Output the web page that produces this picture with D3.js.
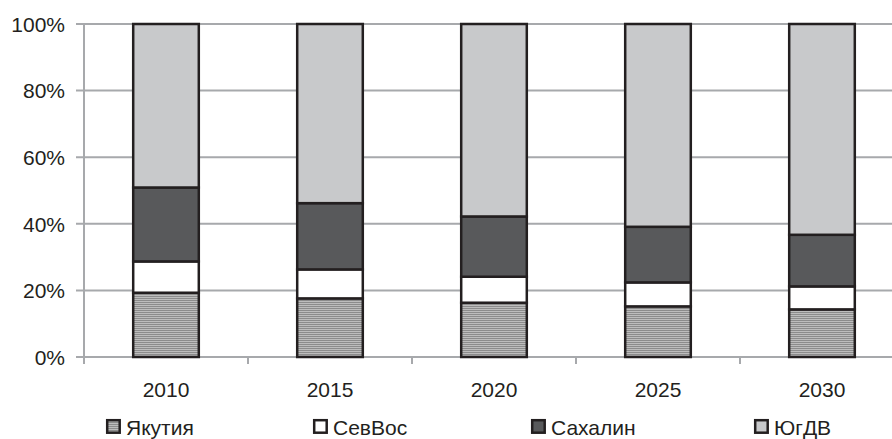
<!DOCTYPE html>
<html>
<head>
<meta charset="utf-8">
<script src="https://cdn.jsdelivr.net/npm/d3@7/dist/d3.min.js"></script>
<style>
  html, body { margin: 0; padding: 0; background: #fff; }
  svg { display: block; overflow: hidden; }
  text { font-family: "Liberation Sans", Arial, sans-serif; fill: #231f20; }
</style>
</head>
<body>
<svg id="chart" width="892" height="439"></svg>
<script>
// Structure shares by year, percent
const years = ["2010", "2015", "2020", "2025", "2030"];
const seriesNames = ["Якутия", "СевВос", "Сахалин", "ЮгДВ"];
const yakutia  = [19.3, 17.6, 16.3, 15.2, 14.3];
const sevVos   = [9.4, 8.7, 7.8, 7.2, 6.9];
const sakhalin = [22.2, 19.9, 18.1, 16.7, 15.5];
const yugDV    = [49.1, 53.8, 57.8, 60.9, 63.3];
const yTicks = [0, 20, 40, 60, 80, 100];

const seriesValues = [yakutia, sevVos, sakhalin, yugDV];
const fills = ["url(#stripes)", "#ffffff", "#58595b", "#c8c9cb"];

const svg = d3.select("#chart");

// horizontal stripe fill for the first series
const defs = svg.append("defs");
const pat = defs.append("pattern")
  .attr("id", "stripes").attr("patternUnits", "userSpaceOnUse")
  .attr("width", 4).attr("height", 2);
pat.append("rect").attr("width", 4).attr("height", 2).attr("fill", "#bdbdbd");
pat.append("rect").attr("width", 4).attr("height", 1).attr("fill", "#8c8c8c");

const rows = years.map((y, i) => {
  const r = { year: y };
  seriesNames.forEach((s, k) => r[s] = seriesValues[k][i]);
  return r;
});
const stacked = d3.stack().keys(seriesNames)(rows);

const x = d3.scaleBand().domain(years).range([84, 904])
  .paddingInner(0.6).paddingOuter(0.3);
const xCat = d3.scaleBand().domain(years).range([84, 904]).padding(0);
const y = d3.scaleLinear().domain([0, 100]).range([357, 24]);

const gridColor = "#a7a9ac";

// gridlines with left tick stubs
svg.append("g").selectAll("line").data(yTicks).join("line")
  .attr("x1", 76).attr("x2", 892)
  .attr("y1", d => y(d)).attr("y2", d => y(d))
  .attr("stroke", gridColor).attr("stroke-width", 2);

// y axis line
svg.append("line")
  .attr("x1", 84).attr("x2", 84).attr("y1", y(100)).attr("y2", 364)
  .attr("stroke", gridColor).attr("stroke-width", 2);

// category boundary ticks
svg.append("g").selectAll("line").data(years.slice(1)).join("line")
  .attr("x1", d => xCat(d)).attr("x2", d => xCat(d))
  .attr("y1", y(0)).attr("y2", 364)
  .attr("stroke", gridColor).attr("stroke-width", 2);

// y tick labels
svg.append("g").selectAll("text").data(yTicks).join("text")
  .attr("x", 65).attr("y", d => y(d) + 7.8)
  .attr("text-anchor", "end").attr("font-size", 21)
  .text(d => d + "%");

// stacked bars
svg.append("g").selectAll("g").data(stacked).join("g")
  .attr("fill", (d, i) => fills[i])
  .selectAll("rect").data(d => d).join("rect")
  .attr("x", d => x(d.data.year))
  .attr("width", x.bandwidth())
  .attr("y", d => y(d[1]))
  .attr("height", d => y(d[0]) - y(d[1]))
  .attr("stroke", "#231f20").attr("stroke-width", 2.5);

// x labels
svg.append("g").selectAll("text").data(years).join("text")
  .attr("x", d => xCat(d) + xCat.bandwidth() / 2)
  .attr("y", 397)
  .attr("text-anchor", "middle").attr("font-size", 21)
  .text(d => d);

// legend
const legendX = [106, 313, 531, 754];
const leg = svg.append("g").selectAll("g").data(seriesNames).join("g")
  .attr("transform", (d, i) => `translate(${legendX[i]},0)`);
leg.append("rect")
  .attr("x", 1.2).attr("y", 420.2).attr("width", 12.5).attr("height", 12.5)
  .attr("fill", (d, i) => fills[i])
  .attr("stroke", "#231f20").attr("stroke-width", 2.5);
leg.append("text")
  .attr("x", 20).attr("y", 435)
  .attr("font-size", 21)
  .text(d => d);
</script>
</body>
</html>
